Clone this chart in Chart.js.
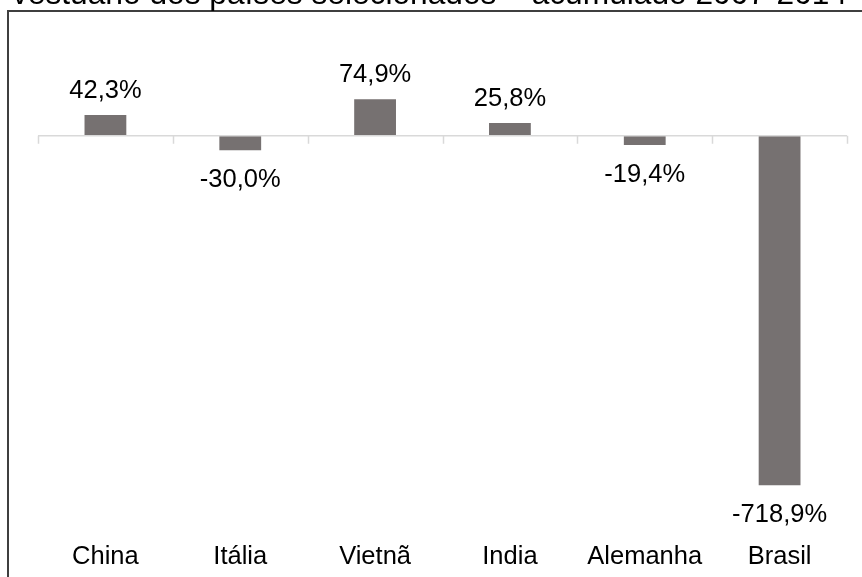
<!DOCTYPE html>
<html lang="pt-BR">
<head>
<meta charset="utf-8">
<title>Saldo comercial acumulado</title>
<script src="https://cdn.jsdelivr.net/npm/chart.js@4/dist/chart.umd.min.js"></script>
<style>
    html, body {
        margin: 0;
        padding: 0;
        background: #ffffff;
        overflow: hidden;
    }
    #wrap {
        position: relative;
        width: 862px;
        height: 577px;
        overflow: hidden;
    }
    #frame {
        position: absolute;
        left: 7px;
        top: 10px;
        width: 900px;
        height: 620px;
        border-left: 2px solid #3f3f3f;
        border-top: 2px solid #3f3f3f;
    }
    #titulo {
        position: absolute;
        left: 12px;
        top: -25px;
        font: 31.7px "Liberation Sans", Arial, sans-serif;
        line-height: 36px;
        white-space: nowrap;
        color: #000000;
    }
    #grafico {
        position: absolute;
        left: 0;
        top: 0;
    }
</style>
</head>
<body>
<div id="wrap">
    <div id="frame"></div>
    <canvas id="grafico" width="862" height="600"></canvas>
    <div id="titulo">vestuário dos países selecionados – acumulado 2007-2014</div>
</div>
<script>
// países e saldo acumulado (%)
const categories = ['China', 'Itália', 'Vietnã', 'India', 'Alemanha', 'Brasil'];
const saldoAcumulado = [42.3, -30.0, 74.9, 25.8, -19.4, -718.9];

const barColor = '#767171';
const fontFamily = '"Liberation Sans", Arial, sans-serif';

function formatPct(v) {
    return v.toFixed(1).replace('.', ',') + '%';
}

// linha do zero com marcas entre as categorias
const zeroLinePlugin = {
    id: 'zeroLine',
    afterDatasetsDraw(chart) {
        const { ctx, chartArea, scales: { x, y } } = chart;
        const y0 = y.getPixelForValue(0);
        const step = x.getPixelForValue(1) - x.getPixelForValue(0);
        ctx.save();
        ctx.strokeStyle = '#d9d9d9';
        ctx.lineWidth = 1.5;
        ctx.beginPath();
        ctx.moveTo(chartArea.left, y0);
        ctx.lineTo(chartArea.right, y0);
        for (let i = 0; i <= categories.length; i++) {
            const px = Math.round(x.getPixelForValue(0) - step / 2 + i * step) + 0.5;
            ctx.moveTo(px, y0);
            ctx.lineTo(px, y0 + 8);
        }
        ctx.stroke();
        ctx.restore();
    }
};

// rótulos de valor acima / abaixo das barras
const valueLabelPlugin = {
    id: 'valueLabels',
    afterDatasetsDraw(chart) {
        const { ctx } = chart;
        const meta = chart.getDatasetMeta(0);
        ctx.save();
        ctx.font = '25.5px ' + fontFamily;
        ctx.fillStyle = '#000000';
        ctx.textAlign = 'center';
        ctx.textBaseline = 'alphabetic';
        meta.data.forEach((bar, i) => {
            const v = saldoAcumulado[i];
            const ty = v >= 0 ? bar.y - 17 : bar.y + 37;
            ctx.fillText(formatPct(v), bar.x, ty);
        });
        ctx.restore();
    }
};

const ctx = document.getElementById('grafico').getContext('2d');

new Chart(ctx, {
    type: 'bar',
    data: {
        labels: categories,
        datasets: [{
            data: saldoAcumulado,
            backgroundColor: barColor,
            borderWidth: 0,
            categoryPercentage: 1,
            barPercentage: 0.31
        }]
    },
    options: {
        responsive: false,
        animation: false,
        layout: {
            padding: { left: 38, right: 15, top: 87, bottom: 10.6 }
        },
        plugins: {
            legend: { display: false },
            tooltip: { enabled: false },
            title: { display: false }
        },
        scales: {
            x: {
                grid: { display: false, drawTicks: false },
                border: { display: false },
                ticks: {
                    color: '#000000',
                    padding: 17,
                    font: { family: fontFamily, size: 25.5 }
                }
            },
            y: {
                display: false,
                min: -800,
                max: 100
            }
        }
    },
    plugins: [zeroLinePlugin, valueLabelPlugin]
});
</script>
</body>
</html>
